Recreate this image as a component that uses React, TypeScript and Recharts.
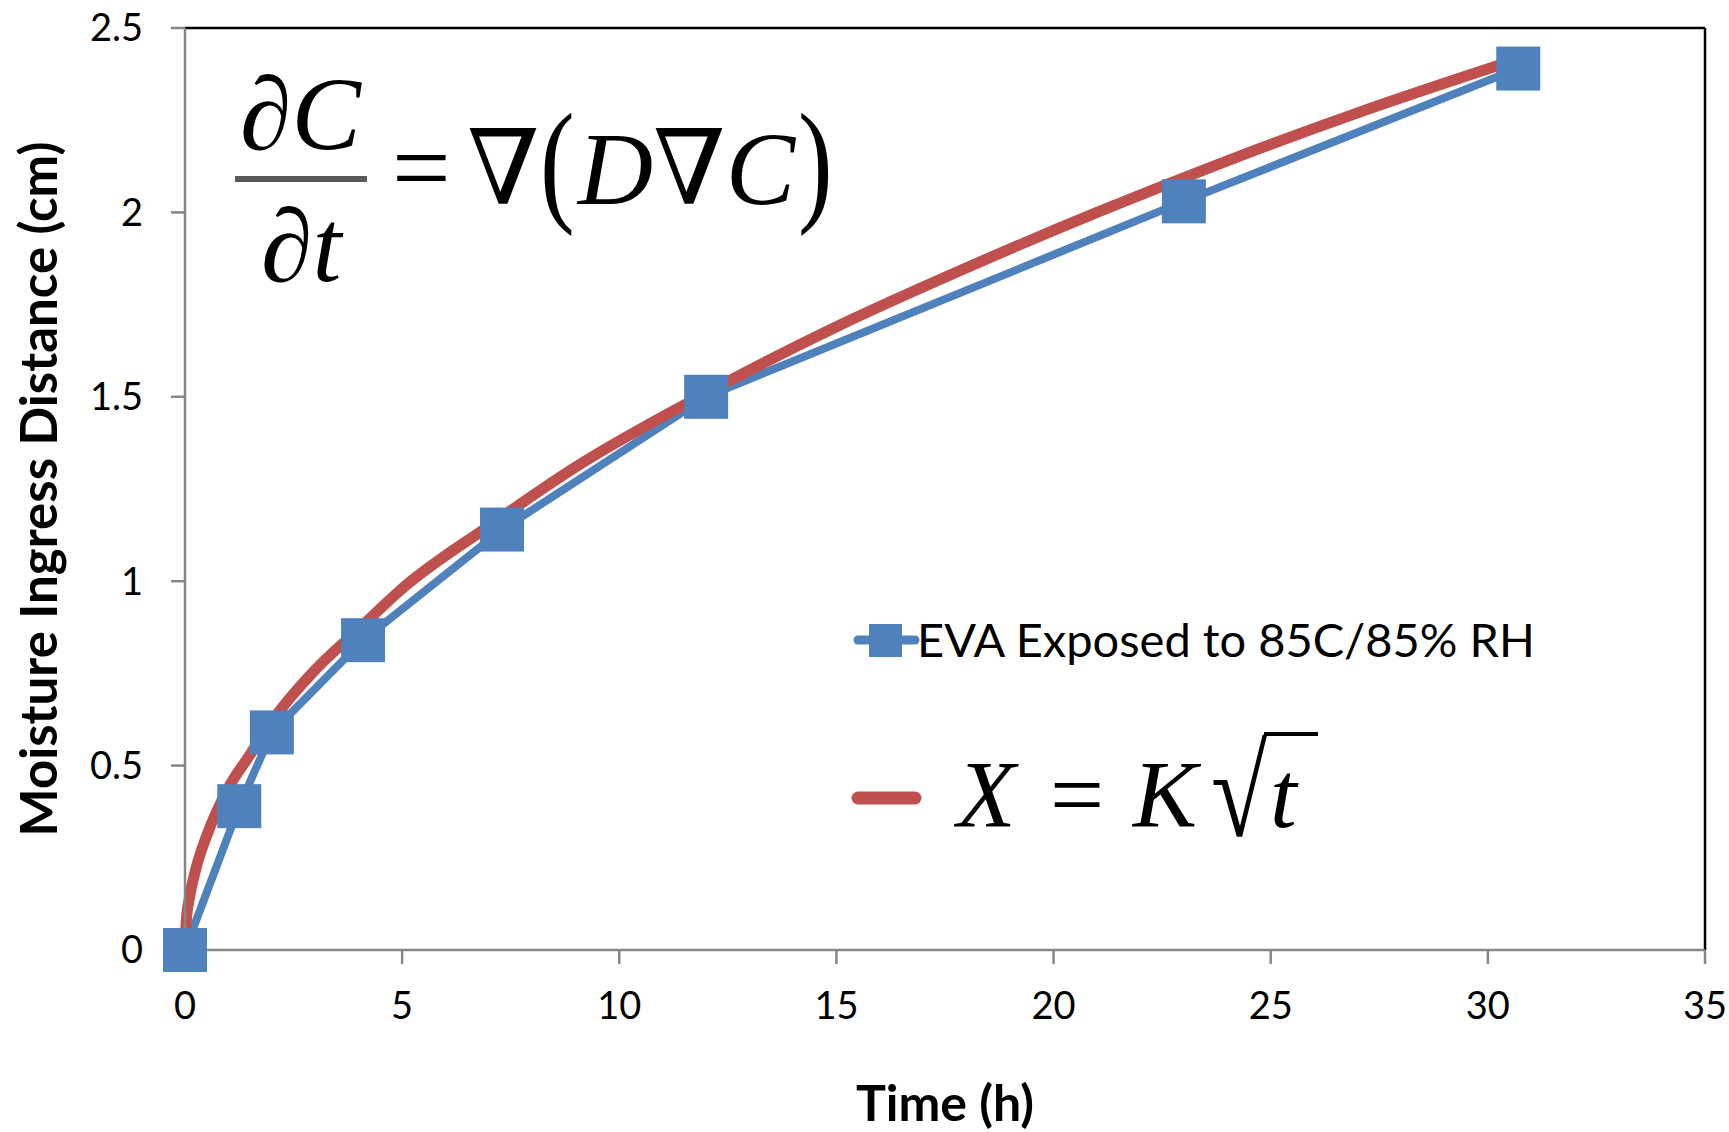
import React from "react";
import {
  ComposedChart, Line, XAxis, YAxis, ReferenceLine, Legend,
} from "recharts";

// measured points (time in hours, ingress in cm)
const evaTime = [0, 1.25, 2, 4.1, 7.3, 12, 23, 30.7];
const evaDist = [0, 0.39, 0.59, 0.84, 1.14, 1.5, 2.03, 2.39];

// fitted curve X = K*sqrt(t)
const fitTime = [0, 0.03, 0.1, 0.25, 0.5, 1, 1.5, 2, 3, 4, 5, 7, 9, 12, 15, 18, 21, 24, 27, 30.8];
const fitDist = [0, 0.08, 0.14, 0.22, 0.31, 0.44, 0.53, 0.62, 0.76, 0.87, 0.98, 1.15, 1.31, 1.51, 1.69, 1.85, 2.0, 2.14, 2.27, 2.42];

const xTicks = [0, 5, 10, 15, 20, 25, 30, 35];
const yTicks = [0, 0.5, 1, 1.5, 2, 2.5];

const BLUE = "#4F81BD";
const RED = "#C0504D";
const AXIS = "#868686";
const SANS = "Lato, 'Open Sans', sans-serif";
const SERIF = "'Liberation Serif', 'DejaVu Serif', serif";

const evaData = evaTime.map((t, i) => ({ t, v: evaDist[i] }));
const fitData = fitTime.map((t, i) => ({ t, v: fitDist[i] }));

const SquareDot = (p: any) => {
  if (p.cx == null || p.cy == null) return <g key={`sq-${p.index}`} />;
  return (
    <rect
      key={`sq-${p.index}`}
      x={p.cx - 22}
      y={p.cy - 22}
      width={44}
      height={44}
      fill={BLUE}
    />
  );
};

// legend: marker entry + fitted-curve entry written as a formula
function LegendBox(props: any) {
  const items = props.payload || [];
  const eva = items.find((d: any) => d.color === BLUE) || items[0];
  const fit = items.find((d: any) => d.color === RED) || items[1];
  return (
    <svg width={720} height={270} style={{ overflow: "visible" }}>
      <line x1={18} x2={75} y1={50} y2={50} stroke={eva?.color ?? BLUE} strokeWidth={9} strokeLinecap="round" />
      <rect x={29} y={34} width={33} height={33} fill={eva?.color ?? BLUE} />
      <text x={77} y={67} fontFamily={SANS} fontSize={47} fill="#000">
        {eva?.value}
      </text>

      <line x1={18} x2={75} y1={208} y2={208} stroke={fit?.color ?? RED} strokeWidth={13} strokeLinecap="round" />
      <g fontFamily={SERIF} fill="#000">
        <text x={117} y={237} fontSize={96} fontStyle="italic">X</text>
        <text x={210} y={237} fontSize={96}>=</text>
        <text x={293} y={237} fontSize={96} fontStyle="italic">K</text>
        <text transform="translate(371,246) scale(0.8,1)" x={0} y={0} fontSize={128}>√</text>
        <line x1={424} x2={478} y1={144} y2={144} stroke="#000" strokeWidth={4} />
        <text x={430} y={237} fontSize={96} fontStyle="italic">t</text>
      </g>
    </svg>
  );
}

function DiffusionEquation() {
  return (
    <svg
      width={1729}
      height={1132}
      style={{ position: "absolute", left: 0, top: 0, pointerEvents: "none" }}
    >
      <g fontFamily={SERIF} fill="#000">
        <text x={240} y={149} fontSize={104}>
          ∂<tspan fontStyle="italic">C</tspan>
        </text>
        <rect x={235} y={176} width={132} height={6} fill="#595959" />
        <text x={261} y={281} fontSize={104}>
          ∂<tspan fontStyle="italic">t</tspan>
        </text>
        <text x={392} y={203} fontSize={104}>=</text>
        <text x={467} y={204} fontSize={104}>∇</text>
        <text transform="translate(540,207) scale(1,1.3)" x={0} y={0} fontSize={104}>(</text>
        <text x={578} y={204} fontSize={104}>
          <tspan fontStyle="italic">D</tspan>∇<tspan fontStyle="italic">C</tspan>
        </text>
        <text transform="translate(798,207) scale(1,1.3)" x={0} y={0} fontSize={104}>)</text>
      </g>
    </svg>
  );
}

export default function App() {
  return (
    <div style={{ position: "absolute", left: 0, top: 0, width: 1729, height: 1132, background: "#fff" }}>
      <ComposedChart
        width={1729}
        height={1132}
        margin={{ top: 28, right: 24, left: 85, bottom: 82 }}
      >
        <XAxis
          type="number"
          dataKey="t"
          domain={[0, 35]}
          ticks={xTicks}
          stroke={AXIS}
          strokeWidth={2.5}
          tickSize={14}
          tickMargin={28}
          height={100}
          tick={{ fill: "#000", fontSize: 38, fontFamily: SANS }}
          tickLine={{ stroke: AXIS, strokeWidth: 2.5 }}
          label={{
            content: ({ viewBox }: any) => (
              <text
                x={viewBox.x + viewBox.width / 2}
                y={viewBox.y + 171}
                textAnchor="middle"
                fontFamily={SANS}
                fontWeight={700}
                fontSize={50}
                fill="#000"
              >
                Time (h)
              </text>
            ),
          }}
        />
        <YAxis
          type="number"
          domain={[0, 2.5]}
          ticks={yTicks}
          stroke={AXIS}
          strokeWidth={2.5}
          tickSize={14}
          tickMargin={28}
          width={100}
          tick={{ fill: "#000", fontSize: 38, fontFamily: SANS }}
          tickLine={{ stroke: AXIS, strokeWidth: 2.5 }}
          label={{
            content: ({ viewBox }: any) => {
              const cy = viewBox.y + viewBox.height / 2;
              return (
                <text
                  x={57}
                  y={cy}
                  transform={`rotate(-90, 57, ${cy})`}
                  textAnchor="middle"
                  fontFamily={SANS}
                  fontWeight={700}
                  fontSize={51}
                  fill="#000"
                >
                  Moisture Ingress Distance (cm)
                </text>
              );
            },
          }}
        />
        <ReferenceLine y={2.5} stroke="#000" strokeWidth={2.5} />
        <ReferenceLine x={35} stroke="#000" strokeWidth={2.5} />
        <Line
          data={evaData}
          dataKey="v"
          name="EVA Exposed to 85C/85% RH"
          type="linear"
          stroke={BLUE}
          strokeWidth={8}
          dot={SquareDot}
          activeDot={false}
          isAnimationActive={false}
        />
        <Line
          data={fitData}
          dataKey="v"
          name="X = K√t"
          type="monotone"
          stroke={RED}
          strokeWidth={11}
          strokeLinecap="round"
          dot={false}
          activeDot={false}
          isAnimationActive={false}
        />
        <Legend
          layout="horizontal"
          verticalAlign="middle"
          align="center"
          content={LegendBox}
          wrapperStyle={{ position: "absolute", left: 840, top: 590, width: 720, height: 270 }}
        />
      </ComposedChart>
      <DiffusionEquation />
    </div>
  );
}
